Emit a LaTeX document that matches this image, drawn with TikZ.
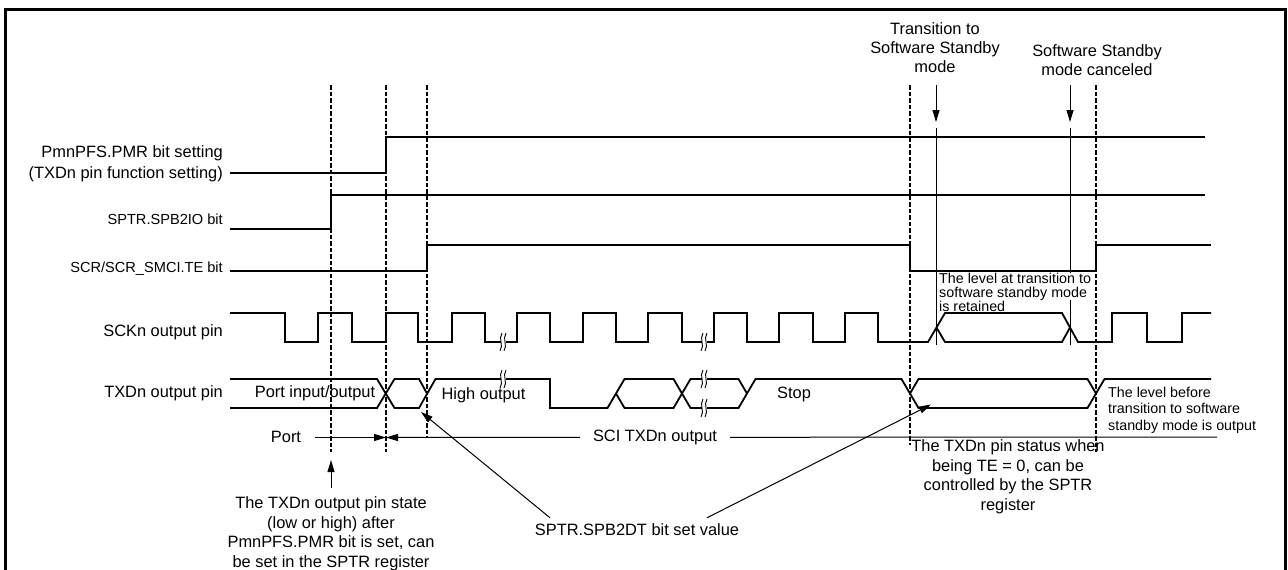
\documentclass[tikz,border=0pt]{standalone}
\usepackage{fontspec}
\setmainfont{Liberation Sans}
\usetikzlibrary{arrows.meta}
\newcommand\tmbrk[2]{%
  \fill[white] ({#1-2.5},{#2-2.5}) rectangle ({#1+2.5},{#2+2.5});
  \draw[line width=0.9pt] ({#1-1},{#2-9}) .. controls ({#1-5},{#2-3}) and ({#1+1},{#2+3}) .. ({#1-3},{#2+9});
  \draw[line width=0.9pt] ({#1+3},{#2-9}) .. controls ({#1-1},{#2-3}) and ({#1+5},{#2+3}) .. ({#1+1},{#2+9});
}
\begin{document}
\begin{tikzpicture}[x=1pt,y=-1pt,
  sig/.style={line width=1.8pt},
  thinln/.style={line width=1pt},
  vdash/.style={line width=2.5pt, dash pattern=on 4.5pt off 2pt},
  lbl/.style={font=\fontsize{16.4}{19.5}\selectfont, inner sep=0pt},
  lblsm/.style={font=\fontsize{14.6}{17}\selectfont, inner sep=0pt},
  smalltxt/.style={font=\fontsize{14.3}{14}\selectfont, inner sep=0.5pt},
  arr/.style={thinln, -{Triangle[length=12pt,width=7pt]}},
]
\useasboundingbox (0,0) rectangle (1288,570);
\draw[line width=3pt] (5.5,572) -- (5.5,9) -- (1285.5,9) -- (1285.5,572);

% dashed time markers
\draw[vdash] (331,85) -- (331,452);
\draw[vdash] (386,85) -- (386,452);
\draw[vdash] (427,85) -- (427,438);
\draw[vdash] (910,85) -- (910,445);
\draw[vdash] (1096,85) -- (1096,452);

% standby thin markers
\draw[thinln] (936,128) -- (936,345);
\draw[thinln] (1070,128) -- (1070,345);
\coordinate (ta) at (936,85); \coordinate (tb) at (936,122);
\coordinate (tc) at (1070,85); \coordinate (td) at (1070,122);
\draw[arr] (ta) -- (tb);
\draw[arr] (tc) -- (td);

\node[smalltxt, align=left, anchor=north west, fill=white] (lvr) at (938.5,272.3) {The level at transition to\\software standby mode\\is retained};
\draw[thinln] (1070,300) -- (1070,345);

% labels
\node[lbl, anchor=north east, align=right, font=\fontsize{16.4}{21}\selectfont] (lpmr) at (223,145.5) {PmnPFS.PMR bit setting\\(TXDn pin function setting)};
\node[lblsm, anchor=east] (lspb) at (223,219) {SPTR.SPB2IO bit};
\node[lblsm, anchor=east] (lte) at (223,269) {SCR/SCR\_SMCI.TE bit};
\node[lbl, anchor=east] (lsck) at (223,332) {SCKn output pin};
\node[lbl, anchor=east] (ltxd) at (223,393) {TXDn output pin};

% register waveforms
\draw[sig] (230,173) -- (386,173) -- (386,137) -- (1205,137);
\draw[sig] (230,229) -- (331,229) -- (331,195) -- (1205,195);
\draw[sig] (230,271) -- (427,271) -- (427,245) -- (910,245) -- (910,271) -- (1096,271) -- (1096,245) -- (1211,245);

% SCK
\draw[sig] (230,313) -- (285,313) -- (285,342) -- (318,342) -- (318,313) -- (352,313) -- (352,342) -- (386,342) -- (386,313) -- (418,313) -- (418,342) -- (452,342) -- (452,313) -- (485,313) -- (485,342) -- (517,342) -- (517,313) -- (550,313) -- (550,342) -- (583,342) -- (583,313) -- (616,313) -- (616,342) -- (648,342) -- (648,313) -- (682,313) -- (682,342) -- (714,342) -- (714,313) -- (747,313) -- (747,342) -- (779,342) -- (779,313) -- (813,313) -- (813,342) -- (845,342) -- (845,313) -- (878,313) -- (878,342) -- (928,342) -- (945,313) -- (1062,313) -- (1078,342) -- (1112,342) -- (1112,313) -- (1147,313) -- (1147,342) -- (1182,342) -- (1182,313) -- (1211,313);
\draw[sig] (936.5,327.5) -- (945,342) -- (1062,342) -- (1070,327.5);

% TXD
\draw[sig] (230,379) -- (377,379) -- (394.5,408) -- (419,408) -- (435.5,379) -- (550,379) -- (550,408) -- (607.5,408) -- (624.5,379) -- (673.5,379) -- (690.5,408) -- (738.5,408) -- (755.5,379) -- (901.5,379) -- (918.5,408) -- (1087.5,408) -- (1104.5,379) -- (1211,379);
\draw[sig] (230,408) -- (377,408) -- (394.5,379) -- (419,379) -- (427,393.5);
\draw[sig] (616,393.5) -- (624.5,408) -- (673.5,408) -- (690.5,379) -- (738.5,379) -- (747,393.5);
\draw[sig] (910,393.5) -- (918.5,379) -- (1087.5,379) -- (1096,393.5);

% breaks
\tmbrk{503}{342}
\tmbrk{503}{379}
\tmbrk{704}{342}
\tmbrk{704}{379}
\tmbrk{704}{408}

% texts in TXD row
\node[lbl] (tpio) at (315,393) {Port input/output};
\node[lbl] (thigh) at (483.5,395) {High output};
\node[lbl] (tstop) at (794,394) {Stop};

% port / SCI row
\node[lbl] (port) at (286,437) {Port};
\coordinate (pl) at (315,437.5);
\coordinate (pm) at (386,437.5);
\coordinate (pr) at (1217,437);
\draw[arr] (pl) -- (pm);
\draw[arr] (pr) -- (pm);
\node[lbl, fill=white, inner xsep=13pt, inner ysep=2pt] (sci) at (655,437) {SCI TXDn output};

% top annotations
\node[lbl, align=center, anchor=north, font=\fontsize{16.4}{19}\selectfont] (ttr) at (935,22.5) {Transition to\\Software Standby\\mode};
\node[lbl, align=center, anchor=north, font=\fontsize{16.4}{19}\selectfont] (tsc) at (1097,44.5) {Software Standby\\mode canceled};

% bottom annotations
\node[lbl, align=center, anchor=north] (ann1) at (331,496.5) {The TXDn output pin state\\(low or high) after\\PmnPFS.PMR bit is set, can\\be set in the SPTR register};
\coordinate (a1) at (331,460);
\draw[arr] ([yshift=9pt]ann1.north) -- (a1);

\node[lbl] (spb) at (637,530) {SPTR.SPB2DT bit set value};
\coordinate (s1) at (421,412);
\coordinate (s2) at (931,404.5);
\draw[arr] ([xshift=-87pt,yshift=6pt]spb.north) -- (s1);
\draw[arr] ([xshift=70pt,yshift=6pt]spb.north) -- (s2);

\node[lbl, align=center, anchor=north] (ann3) at (1008,439.5) {The TXDn pin status when\\being TE = 0, can be\\controlled by the SPTR\\register};

\node[smalltxt, align=left, anchor=north west, font=\fontsize{14.3}{16.5}\selectfont] (lvb) at (1107.5,386) {The level before\\transition to software\\standby mode is output};
\end{tikzpicture}
\end{document}
